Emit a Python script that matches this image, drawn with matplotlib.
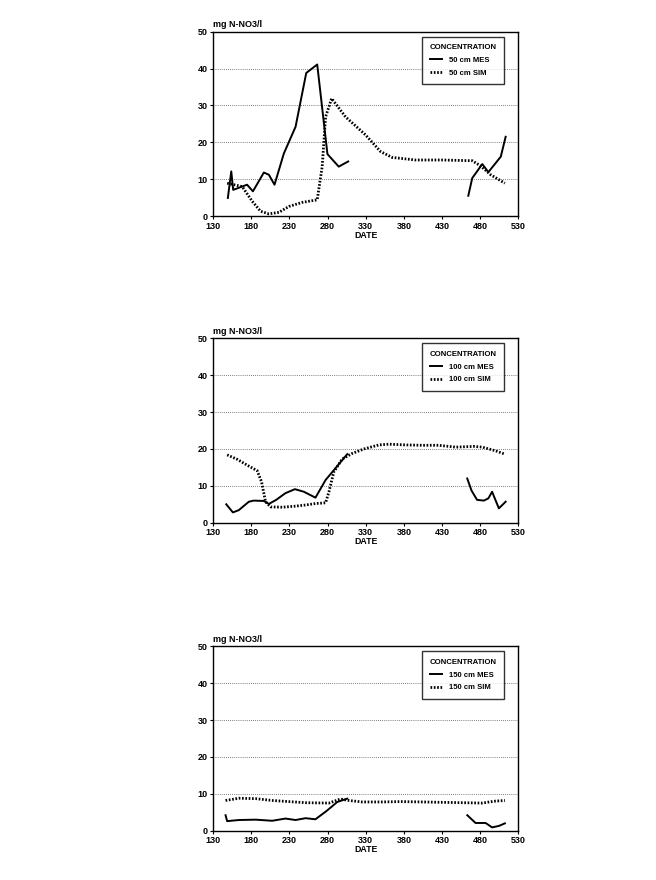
import matplotlib
matplotlib.use("Agg")
import matplotlib.pyplot as plt
import numpy as np

plt.rcParams['font.family'] = ['Liberation Sans', 'DejaVu Sans']
plt.rcParams['font.weight'] = 'bold'

# 50 cm
mes50_day = [[149.2, 153.7, 156.2, 174.4, 182.1, 196.4, 203, 210.4, 222.7, 238, 252, 266.4, 279.8, 294.6, 307],
             [464.5, 469.7, 482.9, 490.8, 507.1, 513.5]]
mes50_val = [[4.9, 12.1, 7.1, 8.5, 6.7, 11.8, 11.2, 8.5, 17, 24.2, 38.8, 41.1, 16.8, 13.4, 14.8],
             [5.5, 10.3, 14.1, 11.9, 16.1, 21.5]]
sim50_day = [148.3, 168, 181.2, 192.1, 203, 216.2, 229.3, 246.7, 266.4, 272.9, 277.4, 285.3, 303.5,
             329.8, 349.4, 364.6, 395.2, 430.3, 469.7, 480.7, 493.8, 512.5]
sim50_val = [8.9, 8.0, 4.0, 1.3, 0.6, 1.0, 2.6, 3.7, 4.4, 13.4, 26.9, 31.9, 26.9,
             22, 17.5, 15.9, 15.2, 15.2, 15, 13.6, 11.2, 8.9]

# 100 cm
mes100_day = [[147.1, 155.8, 163.5, 176.8, 183.2, 196.4, 203, 212.6, 224.6, 237.1, 248.9, 264.1, 277.4, 290.4, 305.8],
              [463.1, 468.8, 476, 484.9, 490.8, 495.7, 504.6, 513.5]]
mes100_val = [[5.0, 2.8, 3.4, 5.7, 6.0, 5.9, 5.1, 6.2, 8.0, 9.1, 8.4, 6.8, 11.6, 14.8, 18.6],
              [12.0, 8.7, 6.2, 6.0, 6.6, 8.4, 3.9, 5.7]]
sim100_day = [148.3, 161.5, 174.6, 187.7, 193.4, 198.6, 205.2, 220.5, 238, 251.1, 264.1, 277.4, 281.8,
              288.2, 299.2, 312.4, 327.6, 347.3, 360.4, 382.4, 404.1, 425.7, 447.8, 471.9, 482.9, 500.3, 512.5]
sim100_val = [18.4, 17.2, 15.6, 14.1, 11.1, 5.7, 4.3, 4.2, 4.5, 4.8, 5.2, 5.4, 8.4,
              13.8, 17.3, 18.8, 20.0, 21.1, 21.3, 21.1, 21.0, 21.0, 20.5, 20.7, 20.5, 19.5, 18.6]

# 150 cm
mes150_day = [[146.2, 148.3, 163.5, 185.5, 207.4, 224.8, 238, 251.1, 264.1, 279.5, 292.7, 305.8],
              [463.2, 474, 487.2, 495.7, 504.6, 512.5]]
mes150_val = [[4.2, 2.6, 2.9, 3.0, 2.7, 3.3, 2.9, 3.4, 3.1, 5.5, 7.8, 8.7],
              [4.2, 2.1, 2.1, 0.9, 1.3, 2.0]]
sim150_day = [146.2, 163.5, 185.5, 207.4, 229.3, 251.1, 281.7, 296.9, 307.9, 325.4, 351.6, 376,
              404.1, 430.3, 456.3, 482.9, 498.3, 512.5]
sim150_val = [8.2, 8.8, 8.7, 8.2, 7.9, 7.6, 7.5, 8.6, 8.2, 7.8, 7.8, 7.9,
              7.8, 7.7, 7.6, 7.5, 8.0, 8.2]

panels = [
    ("50 cm", mes50_day, mes50_val, sim50_day, sim50_val, 0.7545),
    ("100 cm", mes100_day, mes100_val, sim100_day, sim100_val, 0.406),
    ("150 cm", mes150_day, mes150_val, sim150_day, sim150_val, 0.056),
]

fig = plt.figure(figsize=(6.56, 8.8), dpi=100)

for depth, md, mv, sd, sv, bottom in panels:
    ax = fig.add_axes([0.325, bottom, 0.465, 0.2095])
    for i, (d, v) in enumerate(zip(md, mv)):
        ax.plot(d, v, color='black', lw=1.4, label=depth + ' MES' if i == 0 else None)
    ax.plot(sd, sv, color='black', lw=2.0, ls=(0, (0.6, 0.6)), label=depth + ' SIM')
    ax.set_xlim(130, 530)
    ax.set_ylim(0, 50)
    ax.set_xticks(np.arange(130, 531, 50))
    ax.set_yticks(np.arange(0, 51, 10))
    ax.tick_params(labelsize=6.5, length=2, width=0.8, pad=2)
    for lab in ax.get_xticklabels() + ax.get_yticklabels():
        lab.set_fontweight('bold')
    ax.yaxis.grid(True, ls=(0, (1, 1.5)), color='#555555', lw=0.6)
    for s in ax.spines.values():
        s.set_linewidth(1.0)
    ax.set_xlabel('DATE', fontsize=6.3, fontweight='bold', labelpad=0)
    ax.text(0.0, 1.015, 'mg N-NO3/l', transform=ax.transAxes, fontsize=6.5,
            fontweight='bold', ha='left', va='bottom')
    leg = ax.legend(loc='upper right', bbox_to_anchor=(0.954, 0.973), borderaxespad=0,
                    title='CONCENTRATION', fontsize=5.5,
                    title_fontproperties={'size': 5.6, 'weight': 'bold'},
                    frameon=True, fancybox=False, edgecolor='black', handlelength=1.6,
                    handletextpad=0.9, borderpad=1.0, labelspacing=0.7, alignment='left')
    leg.get_frame().set_linewidth(1.0)

fig.savefig('out.png', dpi=100)
